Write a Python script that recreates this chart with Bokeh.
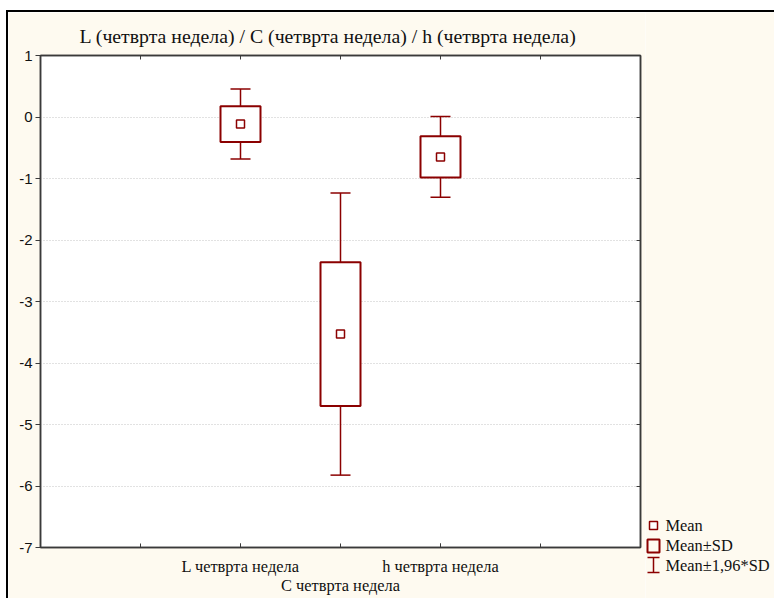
from bokeh.plotting import figure
from bokeh.models import FixedTicker, LinearAxis, Range1d, ColumnDataSource, Div
from bokeh.layouts import row, column
from bokeh.core.properties import value
from bokeh.embed import file_html
from bokeh.resources import INLINE

# ---- data ----
categories = ["L четврта недела", "C четврта недела", "h четврта недела"]
positions = [2, 3, 4]
means = [-0.115, -3.53, -0.65]
sds = [0.29, 1.17, 0.335]
y_ticks = [1, 0, -1, -2, -3, -4, -5, -6, -7]
x_minor_ticks = [1, 2, 3, 4, 5]
legend_labels = ["Mean", "Mean±SD", "Mean±1,96*SD"]
title_text = "L (четврта недела) / C (четврта недела) / h (четврта недела)"

DARK = "#8b0000"
CREAM = "#fefaf0"
AXIS = "#3a3a3a"
TXT = "#111111"

box_top = [m + s for m, s in zip(means, sds)]
box_bot = [m - s for m, s in zip(means, sds)]
wh_top = [m + 1.96 * s for m, s in zip(means, sds)]
wh_bot = [m - 1.96 * s for m, s in zip(means, sds)]

src = ColumnDataSource(dict(
    x=positions, mean=means, bt=box_top, bb=box_bot, wt=wh_top, wb=wh_bot,
    left=[x - 0.2 for x in positions], right=[x + 0.2 for x in positions],
    cl=[x - 0.1 for x in positions], cr=[x + 0.1 for x in positions],
))

# ---- main figure ----
p = figure(width=637, height=586, x_range=Range1d(0, 6), y_range=Range1d(-7, 1),
           output_backend="svg", toolbar_location=None,
           min_border_left=32, min_border_right=5, min_border_top=43, min_border_bottom=51,
           background_fill_color="white", border_fill_color=CREAM,
           outline_line_color=AXIS, outline_line_width=1.5)
p.frame_align = False

p.title.text = title_text
p.title.text_font = "Liberation Serif"
p.title.text_font_size = "19.8px"
p.title.text_font_style = "normal"
p.title.text_color = TXT
p.title.align = "left"
p.title.offset = 39
p.title.standoff = 18

# first bottom axis: L and h labels, inner ticks
xa = p.xaxis[0]
xa.ticker = FixedTicker(ticks=[positions[0], positions[2]], minor_ticks=x_minor_ticks)
xa.major_label_overrides = {positions[0]: categories[0], positions[2]: categories[2]}
xa.major_tick_in = 4
xa.major_tick_out = 0
xa.minor_tick_in = 4
xa.minor_tick_out = 0
xa.axis_line_color = AXIS
xa.axis_line_width = 1.5
xa.major_tick_line_color = AXIS
xa.minor_tick_line_color = AXIS
xa.major_label_text_font = "Liberation Serif"
xa.major_label_text_font_size = "16.4px"
xa.major_label_text_color = TXT
xa.major_label_standoff = 9

# second bottom axis (staggered row): C label
xb = LinearAxis(ticker=FixedTicker(ticks=[positions[1]], minor_ticks=[]),
                major_label_overrides={positions[1]: categories[1]},
                axis_line_color=None, major_tick_line_color=None, minor_tick_line_color=None,
                major_tick_in=0, major_tick_out=0, major_label_standoff=-3,
                major_label_text_font="Liberation Serif", major_label_text_font_size="16.4px",
                major_label_text_color=TXT)
p.add_layout(xb, "below")

ya = p.yaxis[0]
ya.ticker = FixedTicker(ticks=y_ticks)
ya.major_label_overrides = {t: str(t) for t in y_ticks}
ya.major_tick_in = 0
ya.major_tick_out = 5
ya.minor_tick_line_color = None
ya.axis_line_color = AXIS
ya.axis_line_width = 1.5
ya.major_tick_line_color = AXIS
ya.major_label_text_font = "Liberation Sans"
ya.major_label_text_font_size = "15px"
ya.major_label_text_color = TXT
ya.major_label_standoff = 3

top = LinearAxis(ticker=FixedTicker(ticks=[], minor_ticks=x_minor_ticks),
                 minor_tick_in=4, minor_tick_out=0, major_label_standoff=0,
                 axis_line_color=AXIS, axis_line_width=1.5, minor_tick_line_color=AXIS)
p.add_layout(top, "above")
right = LinearAxis(ticker=FixedTicker(ticks=[], minor_ticks=y_ticks),
                   minor_tick_in=4, minor_tick_out=0, major_label_standoff=0,
                   axis_line_color=AXIS, axis_line_width=1.5, minor_tick_line_color=AXIS)
p.add_layout(right, "right")

p.xgrid.visible = False
p.ygrid.ticker = FixedTicker(ticks=y_ticks)
p.ygrid.grid_line_color = "#c4c4c4"
p.ygrid.grid_line_dash = "1 2"

p.segment(x0="x", y0="bt", x1="x", y1="wt", source=src, line_color=DARK, line_width=1.5)
p.segment(x0="x", y0="bb", x1="x", y1="wb", source=src, line_color=DARK, line_width=1.5)
p.segment(x0="cl", y0="wt", x1="cr", y1="wt", source=src, line_color=DARK, line_width=1.5)
p.segment(x0="cl", y0="wb", x1="cr", y1="wb", source=src, line_color=DARK, line_width=1.5)
p.quad(left="left", right="right", top="bt", bottom="bb", source=src,
       fill_color="white", line_color=DARK, line_width=2)
p.scatter(x="x", y="mean", source=src, marker="square", size=8,
          fill_color="white", line_color=DARK, line_width=1.5)

# ---- legend panel (pixel-like coordinates, y downwards) ----
lg = figure(width=129, height=586, x_range=Range1d(0, 129), y_range=Range1d(586, 0),
            output_backend="svg", toolbar_location=None,
            x_axis_location=None, y_axis_location=None,
            min_border=0, min_border_left=0, min_border_right=0, min_border_top=0, min_border_bottom=0,
            background_fill_color=CREAM, border_fill_color=CREAM, outline_line_color=None)
lg.frame_align = False
lg.grid.visible = False
lg.scatter(x=[8], y=[513], marker="square", size=8, fill_color="white",
           line_color=DARK, line_width=1.5)
lg.quad(left=[2], right=[14], top=[527], bottom=[540], fill_color=None,
        line_color=DARK, line_width=2)
lg.segment(x0=[8, 2, 2], y0=[545, 545, 560], x1=[8, 14, 14], y1=[560, 545, 560],
           line_color=DARK, line_width=1.5)
lg.text(x=[20, 20, 20], y=[513, 533, 553], text=legend_labels,
        text_font=value("Liberation Serif"), text_font_size="16.4px",
        text_color=TXT, text_baseline="middle")

# ---- outer frame strips ----
def strip(w, h, color):
    return Div(text="", width=w, height=h, margin=0,
               styles={"background-color": color})

layout = column(
    strip(774, 10, "white"),
    row(strip(6, 2, "white"), strip(768, 2, "black")),
    row(strip(6, 586, "white"), strip(2, 586, "black"), p, lg),
)

open("out.html", "w").write(file_html(layout, INLINE))
